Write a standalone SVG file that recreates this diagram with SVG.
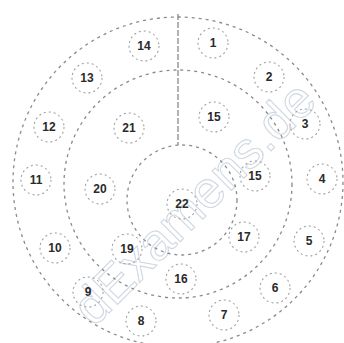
<svg xmlns="http://www.w3.org/2000/svg" width="344" height="343" viewBox="0 0 344 343">
<style>
.ring{fill:none;stroke:#8a8a8a;stroke-width:1.3;stroke-dasharray:3 4}
.div{fill:none;stroke:#8a8a8a;stroke-width:1.3;stroke-dasharray:6 2}
.pin{fill:none;stroke:#a0a0a0;stroke-width:1.1;stroke-dasharray:2 3}
.lbl{font-family:"Liberation Sans",Arial,sans-serif;font-size:12px;font-weight:bold;fill:#2a2a2a;text-anchor:middle;dominant-baseline:central}
.wm{font-family:"Liberation Sans",Arial,sans-serif;font-size:52px;fill:none;stroke:#cfd8e2;stroke-width:1.1}
</style>
<rect width="344" height="343" fill="#fff"/>
<g id="watermark"><text class="wm" x="94" y="328" transform="rotate(-45 94 328)">dExamens.de</text></g>
<g id="frame">
<circle class="ring" cx="178" cy="182" r="165"/>
<circle class="ring" cx="178" cy="184" r="114"/>
<circle class="ring" cx="182" cy="200" r="55"/>
<line class="div" x1="178" y1="14" x2="178" y2="145"/>
</g>
<g id="connectors"></g>
<g id="p1"><circle class="pin" cx="213" cy="43" r="15"/><text class="lbl" x="213" y="43">1</text></g>
<g id="p2"><circle class="pin" cx="269" cy="77" r="15"/><text class="lbl" x="269" y="77">2</text></g>
<g id="p3"><circle class="pin" cx="305" cy="124" r="15"/><text class="lbl" x="305" y="124">3</text></g>
<g id="p4"><circle class="pin" cx="322" cy="179" r="15"/><text class="lbl" x="322" y="179">4</text></g>
<g id="p5"><circle class="pin" cx="309" cy="241" r="15"/><text class="lbl" x="309" y="241">5</text></g>
<g id="p6"><circle class="pin" cx="275" cy="288" r="15"/><text class="lbl" x="275" y="288">6</text></g>
<g id="p7"><circle class="pin" cx="224" cy="315" r="15"/><text class="lbl" x="224" y="315">7</text></g>
<g id="p8"><circle class="pin" cx="141" cy="321" r="15"/><text class="lbl" x="141" y="321">8</text></g>
<g id="p9"><circle class="pin" cx="88" cy="292" r="15"/><text class="lbl" x="88" y="292">9</text></g>
<g id="p10"><circle class="pin" cx="55" cy="248" r="15"/><text class="lbl" x="55" y="248">10</text></g>
<g id="p11"><circle class="pin" cx="36" cy="180" r="15"/><text class="lbl" x="36" y="180">11</text></g>
<g id="p12"><circle class="pin" cx="49" cy="127" r="15"/><text class="lbl" x="49" y="127">12</text></g>
<g id="p13"><circle class="pin" cx="87" cy="78" r="15"/><text class="lbl" x="87" y="78">13</text></g>
<g id="p14"><circle class="pin" cx="144" cy="46" r="15"/><text class="lbl" x="144" y="46">14</text></g>
<g id="p15"><circle class="pin" cx="214" cy="117" r="15"/><text class="lbl" x="214" y="117">15</text></g>
<g id="p16"><circle class="pin" cx="255" cy="176" r="15"/><text class="lbl" x="255" y="176">15</text></g>
<g id="p17"><circle class="pin" cx="244" cy="237" r="15"/><text class="lbl" x="244" y="237">17</text></g>
<g id="p18"><circle class="pin" cx="181" cy="279" r="15"/><text class="lbl" x="181" y="279">16</text></g>
<g id="p19"><circle class="pin" cx="127" cy="249" r="15"/><text class="lbl" x="127" y="249">19</text></g>
<g id="p20"><circle class="pin" cx="100" cy="189" r="15"/><text class="lbl" x="100" y="189">20</text></g>
<g id="p21"><circle class="pin" cx="129" cy="128" r="15"/><text class="lbl" x="129" y="128">21</text></g>
<g id="p22"><circle class="pin" cx="182" cy="204" r="15"/><text class="lbl" x="182" y="204">22</text></g>
</svg>
